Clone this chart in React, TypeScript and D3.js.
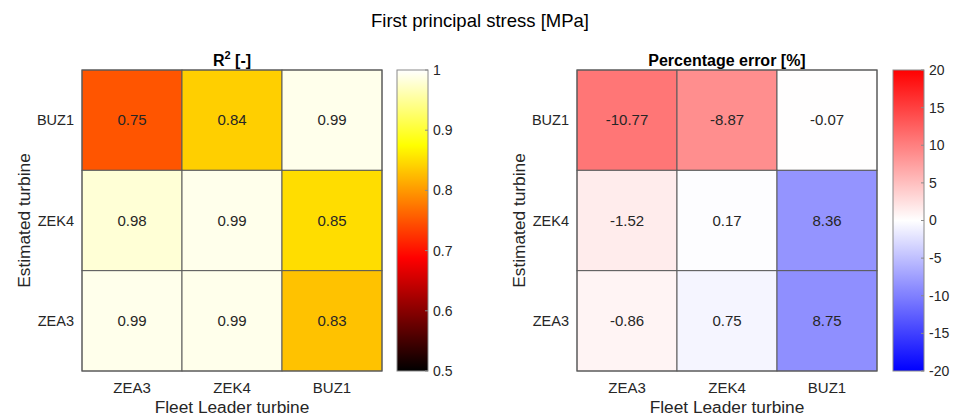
import React from "react";
import * as d3 from "d3";

const fleetLeaders = ["ZEA3", "ZEK4", "BUZ1"];
const estimated = ["BUZ1", "ZEK4", "ZEA3"];

// R² per estimated turbine (rows) and fleet leader (columns)
const r2BUZ1 = [0.75, 0.84, 0.99];
const r2ZEK4 = [0.98, 0.99, 0.85];
const r2ZEA3 = [0.99, 0.99, 0.83];

// Percentage error per estimated turbine (rows) and fleet leader (columns)
const errBUZ1 = [-10.77, -8.87, -0.07];
const errZEK4 = [-1.52, 0.17, 8.36];
const errZEA3 = [-0.86, 0.75, 8.75];

const r2Ticks = [0.5, 0.6, 0.7, 0.8, 0.9, 1];
const errTicks = [-20, -15, -10, -5, 0, 5, 10, 15, 20];

const W = 955;
const H = 419;
const FONT = "'Liberation Sans', Arial, Helvetica, sans-serif";
const TEXT = "#262626";

// MATLAB-style "hot" colormap, t in [0,1]
function hot(t: number): string {
  const c = Math.max(0, Math.min(1, t));
  const r = Math.min(1, c / 0.375);
  const g = Math.max(0, Math.min(1, (c - 0.375) / 0.375));
  const b = Math.max(0, Math.min(1, (c - 0.75) / 0.25));
  return d3.rgb(r * 255, g * 255, b * 255).formatHex();
}

// Blue-white-red diverging colormap, t in [0,1]
function bwr(t: number): string {
  const c = Math.max(0, Math.min(1, t));
  if (c < 0.5) {
    const k = c / 0.5;
    return d3.rgb(255 * k, 255 * k, 255).formatHex();
  }
  const k = (1 - c) / 0.5;
  return d3.rgb(255, 255 * k, 255 * k).formatHex();
}

type PanelProps = {
  id: string;
  rows: number[][];
  x0: number;
  title: React.ReactNode;
  cbX: number;
  domain: [number, number];
  ticks: number[];
  cmap: (t: number) => string;
  colorOf: (v: number) => string;
  fmt: (v: number) => string;
};

function Panel({ id, rows, x0, title, cbX, domain, ticks, cmap, colorOf, fmt }: PanelProps) {
  const top = 70;
  const bottom = 371;
  const size = 300;
  const x = d3.scaleBand<string>().domain(fleetLeaders).range([x0, x0 + size]);
  const y = d3.scaleBand<string>().domain(estimated).range([top, bottom]);
  const cbW = 31;
  const cbScale = d3.scaleLinear().domain(domain).range([bottom, top]);
  const stops = d3.range(0, 65).map((i) => i / 64);

  return (
    <g>
      <defs>
        <linearGradient id={id} x1="0" y1="1" x2="0" y2="0">
          {stops.map((s) => (
            <stop key={s} offset={s} stopColor={cmap(s)} />
          ))}
        </linearGradient>
      </defs>
      <text
        x={x0 + size / 2}
        y={66}
        textAnchor="middle"
        fontWeight="bold"
        fontSize={16}
        fill="#000"
      >
        {title}
      </text>
      {rows.map((row, ri) =>
        row.map((v, ci) => (
          <g key={`${ri}-${ci}`}>
            <rect
              x={x(fleetLeaders[ci])!}
              y={y(estimated[ri])!}
              width={x.bandwidth()}
              height={y.bandwidth()}
              fill={colorOf(v)}
              stroke="#5a5a5a"
              strokeWidth={1}
            />
            <text
              x={x(fleetLeaders[ci])! + x.bandwidth() / 2}
              y={y(estimated[ri])! + y.bandwidth() / 2}
              dy="0.35em"
              textAnchor="middle"
              fontSize={15}
              fill={TEXT}
            >
              {fmt(v)}
            </text>
          </g>
        ))
      )}
      <rect x={x0} y={top} width={size} height={bottom - top} fill="none" stroke="#5a5a5a" />
      {estimated.map((e) => (
        <text
          key={e}
          x={x0 - 8}
          y={y(e)! + y.bandwidth() / 2}
          dy="0.35em"
          textAnchor="end"
          fontSize={14.5}
          fill={TEXT}
        >
          {e}
        </text>
      ))}
      {fleetLeaders.map((f) => (
        <text
          key={f}
          x={x(f)! + x.bandwidth() / 2}
          y={393}
          textAnchor="middle"
          fontSize={15}
          fill={TEXT}
        >
          {f}
        </text>
      ))}
      <text x={x0 + size / 2} y={413} textAnchor="middle" fontSize={17.3} fill={TEXT}>
        Fleet Leader turbine
      </text>
      <text
        transform={`translate(${x0 - 52},${(top + bottom) / 2}) rotate(-90)`}
        textAnchor="middle"
        fontSize={17.3}
        fill={TEXT}
      >
        Estimated turbine
      </text>
      <rect x={cbX} y={top} width={cbW} height={bottom - top} fill={`url(#${id})`} stroke="#8a8a8a" />
      {ticks.map((t) => (
        <g key={t}>
          <line
            x1={cbX + cbW}
            x2={cbX + cbW - 3}
            y1={cbScale(t)}
            y2={cbScale(t)}
            stroke="#8a8a8a"
          />
          <text
            x={cbX + cbW + 5}
            y={cbScale(t)}
            dy="0.35em"
            fontSize={14}
            fill={TEXT}
          >
            {t}
          </text>
        </g>
      ))}
    </g>
  );
}

export default function App() {
  const r2Rows = [r2BUZ1, r2ZEK4, r2ZEA3];
  const errRows = [errBUZ1, errZEK4, errZEA3];
  const r2Norm = d3.scaleLinear().domain([0.5, 1]).range([0, 1]);
  const errNorm = d3.scaleLinear().domain([-20, 20]).range([0, 1]);

  return (
    <svg
      width={W}
      height={H}
      style={{ position: "absolute", left: 0, top: 0, background: "#fff" }}
      fontFamily={FONT}
    >
      <rect width={W} height={H} fill="#fff" />
      <text x={480} y={27} textAnchor="middle" fontSize={18.5} fill="#000">
        First principal stress [MPa]
      </text>
      <Panel
        id="cb-r2"
        rows={r2Rows}
        x0={82}
        title={
          <>
            R<tspan dy={-7} fontSize={11}>2</tspan>
            <tspan dy={7}> [-]</tspan>
          </>
        }
        cbX={397}
        domain={[0.5, 1]}
        ticks={r2Ticks}
        cmap={hot}
        colorOf={(v) => hot(r2Norm(v))}
        fmt={(v) => v.toFixed(2)}
      />
      <Panel
        id="cb-err"
        rows={errRows}
        x0={577}
        title="Percentage error [%]"
        cbX={893}
        domain={[-20, 20]}
        ticks={errTicks}
        cmap={bwr}
        colorOf={(v) => bwr(errNorm(-v))}
        fmt={(v) => v.toFixed(2)}
      />
    </svg>
  );
}
